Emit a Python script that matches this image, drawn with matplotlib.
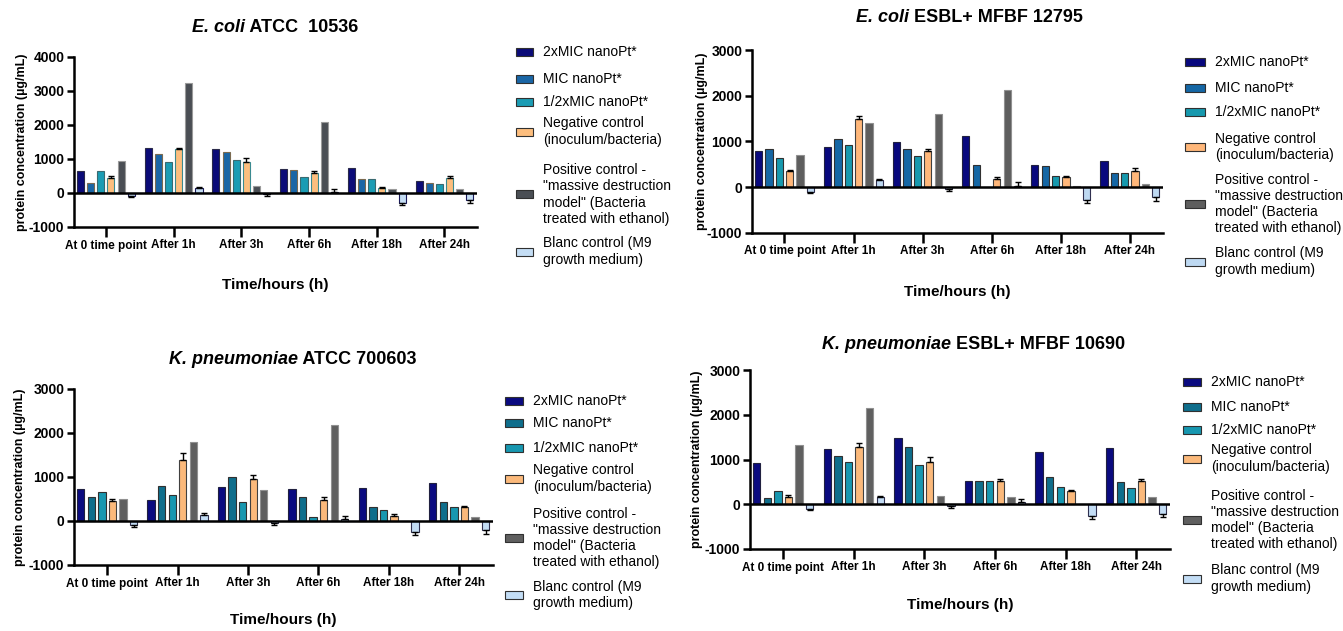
import matplotlib
matplotlib.use("Agg")
import matplotlib.pyplot as plt
import numpy as np
from matplotlib.patches import Rectangle

plt.rcParams['font.family'] = ['Liberation Sans', 'DejaVu Sans']
plt.rcParams['axes.unicode_minus'] = False

categories = ["At 0 time point", "After 1h", "After 3h", "After 6h", "After 18h", "After 24h"]
series_labels = ["2xMIC nanoPt*", "MIC nanoPt*", "1/2xMIC nanoPt*",
                 "Negative control\n(inoculum/bacteria)",
                 'Positive control -\n"massive destruction\nmodel" (Bacteria\ntreated with ethanol)',
                 "Blanc control (M9\ngrowth medium)"]

# Panel 1: E. coli ATCC 10536
p1_2x = [660, 1310, 1300, 700, 730, 360]
p1_mic = [300, 1150, 1200, 690, 410, 290]
p1_half = [660, 920, 980, 480, 410, 270]
p1_neg = [450, 1280, 920, 600, 150, 430]
p1_pos = [950, 3230, 200, 2100, 130, 130]
p1_blank = [-100, 150, -30, 30, -280, -220]
p1_neg_err = [50, 30, 100, 50, 35, 70]
p1_blank_err = [25, 40, 50, 80, 60, 80]

# Panel 2: E. coli ESBL+ MFBF 12795
p2_2x = [800, 880, 980, 1130, 490, 570]
p2_mic = [830, 1050, 830, 490, 475, 305]
p2_half = [630, 930, 690, 0, 255, 320]
p2_neg = [350, 1490, 790, 170, 215, 345]
p2_pos = [700, 1415, 1610, 2115, 30, 65]
p2_blank = [-110, 150, -40, 30, -280, -220]
p2_neg_err = [25, 60, 45, 45, 30, 70]
p2_blank_err = [25, 40, 50, 80, 60, 80]

# Panel 3: K. pneumoniae ATCC 700603
p3_2x = [725, 485, 775, 725, 740, 860]
p3_mic = [545, 785, 1000, 545, 320, 430]
p3_half = [660, 600, 430, 80, 250, 320]
p3_neg = [455, 1390, 960, 475, 110, 325]
p3_pos = [500, 1800, 705, 2180, 0, 90]
p3_blank = [-100, 140, -40, 40, -260, -210]
p3_neg_err = [45, 155, 85, 63, 45, 20]
p3_blank_err = [25, 40, 50, 80, 60, 80]

# Panel 4: K. pneumoniae ESBL+ MFBF 10690
p4_2x = [920, 1225, 1485, 530, 1165, 1255]
p4_mic = [150, 1080, 1270, 530, 610, 505]
p4_half = [290, 940, 875, 510, 380, 360]
p4_neg = [160, 1285, 950, 510, 285, 510]
p4_pos = [1330, 2140, 195, 155, 0, 155]
p4_blank = [-110, 155, -40, 40, -270, -210]
p4_neg_err = [40, 90, 95, 57, 30, 57]
p4_blank_err = [25, 40, 50, 80, 60, 80]

colors_a = ["#0B0B78", "#1A66A6", "#1B9CB4", "#FDBE7E", "#4A4E54", "#C4DDF4"]
edges_a = ["#2a2a4a", "#7a6a50", "#3a6a70", "#3a8a90", "#9a9a9a", "#1a1a5a"]
colors_b = ["#08087E", "#1567A5", "#1799AE", "#FFB77A", "#5E5E5E", "#BED9F2"]
colors_c = ["#0A0A80", "#0F6E8C", "#1797B0", "#FBB97B", "#5F5F5F", "#C3DDF5"]
edges_b = ["#202040", "#303030", "#303030", "#404040", "#909090", "#303050"]

panels = [
    dict(series=[p1_2x, p1_mic, p1_half, p1_neg, p1_pos, p1_blank], neg_err=p1_neg_err, blank_err=p1_blank_err,
         ylim=(-1000, 4000), rect=[74, 477, 57, 227], title=("E. coli", " ATCC  10536"), title_xy=(192, 27),
         xlabel_y=285, ylabel_x=22, colors=colors_a, edges=edges_a,
         leg=dict(px=516, pw=17, tx=543, ys=[52, 79, 102, 131.5, 194.5, 251.5])),
    dict(series=[p2_2x, p2_mic, p2_half, p2_neg, p2_pos, p2_blank], neg_err=p2_neg_err, blank_err=p2_blank_err,
         ylim=(-1000, 3000), rect=[752, 1163, 50, 233], title=("E. coli", " ESBL+ MFBF 12795"), title_xy=(856, 18),
         xlabel_y=292, ylabel_x=702, colors=colors_b, edges=edges_b,
         leg=dict(px=1185, pw=20, tx=1215, ys=[62, 88, 112, 147, 204, 261.5])),
    dict(series=[p3_2x, p3_mic, p3_half, p3_neg, p3_pos, p3_blank], neg_err=p3_neg_err, blank_err=p3_blank_err,
         ylim=(-1000, 3000), rect=[74, 493, 389, 565], title=("K. pneumoniae", " ATCC 700603"), title_xy=(169, 359),
         xlabel_y=620, ylabel_x=20, colors=colors_c, edges=edges_b,
         leg=dict(px=505, pw=18, tx=533, ys=[401, 423, 448, 478.5, 538, 595])),
    dict(series=[p4_2x, p4_mic, p4_half, p4_neg, p4_pos, p4_blank], neg_err=p4_neg_err, blank_err=p4_blank_err,
         ylim=(-1000, 3000), rect=[750, 1170, 370, 549], title=("K. pneumoniae", " ESBL+ MFBF 10690"), title_xy=(822, 344),
         xlabel_y=605, ylabel_x=697, colors=colors_c, edges=edges_b,
         leg=dict(px=1183, pw=18, tx=1211, ys=[382, 407, 430, 458.5, 520, 578.5])),
]

W, H = 1343, 631
fig = plt.figure(figsize=(W / 100, H / 100), dpi=100)

slot = 0.15
bw = 0.105
x = np.arange(len(categories))

for p in panels:
    l, r, t, b = p["rect"]
    ax = fig.add_axes([l / W, 1 - b / H, (r - l) / W, (b - t) / H])
    for i, vals in enumerate(p["series"]):
        xs = x + (i - 2.5) * slot
        vals = np.array(vals, dtype=float)
        err = None
        if i == 3:
            e = np.array(p["neg_err"], dtype=float)
            err = [np.where(vals < 0, e, 0), np.where(vals >= 0, e, 0)]
        elif i == 5:
            e = np.array(p["blank_err"], dtype=float)
            err = [np.where(vals < 0, e, 0), np.where(vals >= 0, e, 0)]
        ax.bar(xs, vals, width=bw, color=p["colors"][i], edgecolor=p["edges"][i], linewidth=0.8,
               yerr=err, error_kw=dict(ecolor="black", elinewidth=1.0, capsize=2, capthick=1.0), zorder=2)
    ax.axhline(0, color="black", lw=1.8, zorder=3)
    ax.set_xlim(-0.47, 5.48)
    ax.set_ylim(*p["ylim"])
    ax.set_yticks(np.arange(p["ylim"][0], p["ylim"][1] + 1, 1000))
    ax.set_xticks(x)
    ax.set_xticklabels(categories, fontsize=8.5, fontweight="bold")
    for lab in ax.get_yticklabels():
        lab.set_fontsize(10)
        lab.set_fontweight("bold")
    ax.spines["top"].set_visible(False)
    ax.spines["right"].set_visible(False)
    ax.spines["left"].set_linewidth(1.8)
    ax.spines["bottom"].set_linewidth(1.8)
    ax.tick_params(axis="x", length=7, width=1.8, pad=2)
    ax.tick_params(axis="y", length=5, width=1.8, pad=2)
    fig.text(p["ylabel_x"] / W, 1 - ((t + b) / 2) / H, "protein concentration (µg/mL)", rotation=90,
             ha="center", va="center", fontsize=9, fontweight="bold")
    fig.text(((l + r) / 2) / W, 1 - p["xlabel_y"] / H, "Time/hours (h)", ha="center", va="center",
             fontsize=11, fontweight="bold")
    tx, ty = p["title_xy"]
    t1 = fig.text(tx / W, 1 - ty / H, p["title"][0], ha="left", va="center", fontsize=13,
                  fontweight="bold", fontstyle="italic")
    ax.annotate(p["title"][1], xy=(1, 0), xycoords=t1, ha="left", va="bottom", fontsize=13,
                fontweight="bold", annotation_clip=False)
    lg = p["leg"]
    for i, lab in enumerate(series_labels):
        yc = lg["ys"][i]
        fig.patches.append(Rectangle((lg["px"] / W, 1 - (yc + 4) / H), lg["pw"] / W, 8 / H,
                                     transform=fig.transFigure, facecolor=p["colors"][i],
                                     edgecolor="#303030", linewidth=0.8))
        fig.text(lg["tx"] / W, 1 - yc / H, lab, ha="left", va="center", fontsize=10,
                 linespacing=1.2)

fig.savefig("out.png", dpi=100)
